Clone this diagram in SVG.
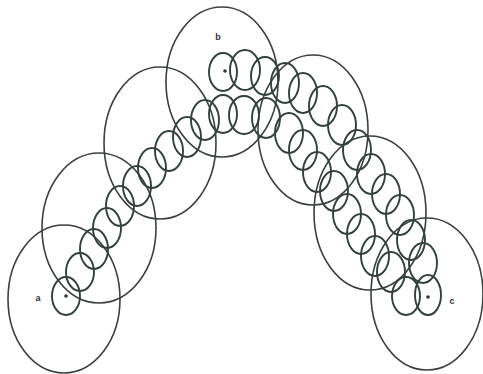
<svg xmlns="http://www.w3.org/2000/svg" width="483" height="374" viewBox="0 0 483 374">
<style>
.big{fill:none;stroke:#3a403d;stroke-width:1.6}
.sm{fill:none;stroke:#34403b;stroke-width:1.9}
.dot{fill:#2f3733}
.lbl{font-family:"Liberation Sans",Arial,sans-serif;font-size:9px;font-weight:bold;fill:#333}
</style>
<rect width="483" height="374" fill="#fff"/>
<g id="large-regions">
<ellipse class="big" cx="64" cy="299" rx="56" ry="74"/>
<ellipse class="big" cx="99" cy="228" rx="57" ry="75"/>
<ellipse class="big" cx="160" cy="143" rx="56" ry="76"/>
<ellipse class="big" cx="222" cy="82" rx="56" ry="75"/>
<ellipse class="big" cx="313" cy="130" rx="55" ry="75"/>
<ellipse class="big" cx="370" cy="213" rx="56" ry="77"/>
<ellipse class="big" cx="427" cy="294" rx="56" ry="76"/>
</g>
<g id="left-chain">
<ellipse class="sm" cx="66" cy="296" rx="14" ry="19"/>
<ellipse class="sm" cx="80" cy="272" rx="14" ry="19"/>
<ellipse class="sm" cx="94" cy="249" rx="14" ry="20"/>
<ellipse class="sm" cx="107" cy="228" rx="14" ry="20"/>
<ellipse class="sm" cx="120" cy="206" rx="14" ry="20"/>
<ellipse class="sm" cx="137" cy="186" rx="14" ry="20"/>
<ellipse class="sm" cx="152" cy="168" rx="14" ry="20"/>
<ellipse class="sm" cx="169" cy="151" rx="14" ry="20"/>
<ellipse class="sm" cx="187" cy="137" rx="14" ry="20"/>
</g>
<g id="upper-chain">
<ellipse class="sm" cx="223" cy="72" rx="14" ry="19"/>
<ellipse class="sm" cx="245" cy="70" rx="15" ry="20"/>
<ellipse class="sm" cx="265" cy="76" rx="14" ry="19"/>
<ellipse class="sm" cx="285" cy="83" rx="14" ry="20"/>
<ellipse class="sm" cx="303" cy="93" rx="14" ry="20"/>
<ellipse class="sm" cx="323" cy="106" rx="14" ry="20"/>
<ellipse class="sm" cx="342" cy="125" rx="14" ry="20"/>
<ellipse class="sm" cx="357" cy="150" rx="14" ry="20"/>
<ellipse class="sm" cx="371" cy="174" rx="14" ry="20"/>
<ellipse class="sm" cx="386" cy="194" rx="14" ry="20"/>
<ellipse class="sm" cx="400" cy="215" rx="14" ry="20"/>
<ellipse class="sm" cx="411" cy="240" rx="14" ry="20"/>
<ellipse class="sm" cx="423" cy="263" rx="14" ry="20"/>
</g>
<g id="lower-chain">
<ellipse class="sm" cx="205" cy="120" rx="14" ry="20"/>
<ellipse class="sm" cx="223" cy="114" rx="14" ry="19"/>
<ellipse class="sm" cx="244" cy="115" rx="15" ry="19"/>
<ellipse class="sm" cx="266" cy="118" rx="14" ry="20"/>
<ellipse class="sm" cx="289" cy="133" rx="14" ry="20"/>
<ellipse class="sm" cx="303" cy="150" rx="14" ry="20"/>
<ellipse class="sm" cx="317" cy="172" rx="14" ry="20"/>
<ellipse class="sm" cx="334" cy="191" rx="14" ry="20"/>
<ellipse class="sm" cx="347" cy="214" rx="14" ry="20"/>
<ellipse class="sm" cx="361" cy="234" rx="14" ry="20"/>
<ellipse class="sm" cx="375" cy="256" rx="14" ry="20"/>
<ellipse class="sm" cx="391" cy="272" rx="14" ry="20"/>
<ellipse class="sm" cx="406" cy="296" rx="14" ry="19"/>
<ellipse class="sm" cx="428" cy="295" rx="13" ry="20"/>
</g>
<g id="node-a">
<circle class="dot" cx="66" cy="296" r="1.8"/>
<text class="lbl" x="38" y="301" text-anchor="middle">a</text>
</g>
<g id="node-b">
<circle class="dot" cx="225" cy="71" r="1.8"/>
<text class="lbl" x="218" y="40" text-anchor="middle">b</text>
</g>
<g id="node-c">
<circle class="dot" cx="428" cy="297" r="1.8"/>
<text class="lbl" x="452" y="304" text-anchor="middle">c</text>
</g>
</svg>
